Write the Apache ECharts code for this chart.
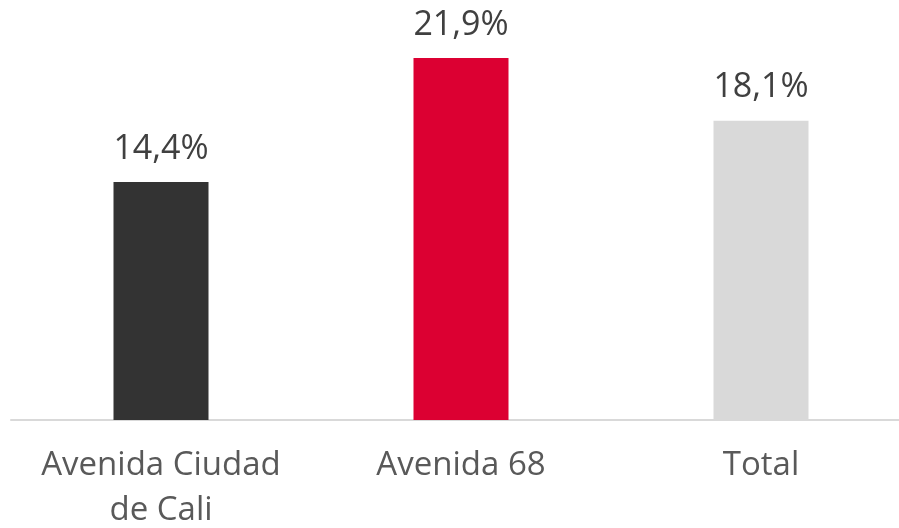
<!DOCTYPE html>
<html>
<head>
<meta charset="utf-8">
<script src="https://cdn.jsdelivr.net/npm/echarts@6/dist/echarts.min.js"></script>
<style>
  html, body { margin: 0; padding: 0; background: #fff; }
  #chart { width: 899px; height: 528px; }
</style>
</head>
<body>
<div id="chart"></div>
<script>
const categories = ["Avenida Ciudad\nde Cali", "Avenida 68", "Total"];
const values = [14.4, 21.9, 18.1];
const barColors = ["#333333", "#DC0032", "#D9D9D9"];

const chart = echarts.init(document.getElementById("chart"));
chart.setOption({
  backgroundColor: "#ffffff",
  animation: false,
  grid: {
    left: 11, top: 6.75, width: 900, height: 413.25,
    containLabel: false, outerBoundsMode: "none"
  },
  xAxis: {
    type: "category",
    data: categories,
    axisLine: { lineStyle: { color: "#D9D9D9", width: 2 } },
    axisTick: { show: false },
    axisLabel: {
      color: "#595959",
      fontFamily: "Open Sans",
      fontSize: 33,
      lineHeight: 45,
      margin: 23,
      interval: 0
    }
  },
  yAxis: {
    type: "value",
    min: 0,
    max: 25,
    show: false,
    splitLine: { show: false }
  },
  series: [
    {
      type: "bar",
      barWidth: 95,
      data: values.map((v, i) => ({ value: v, itemStyle: { color: barColors[i] } })),
      label: {
        show: true,
        position: "top",
        distance: 16,
        color: "#404040",
        fontFamily: "Open Sans",
        fontSize: 34,
        formatter: (p) => p.value.toFixed(1).replace(".", ",") + "%"
      }
    }
  ]
});
</script>
</body>
</html>
